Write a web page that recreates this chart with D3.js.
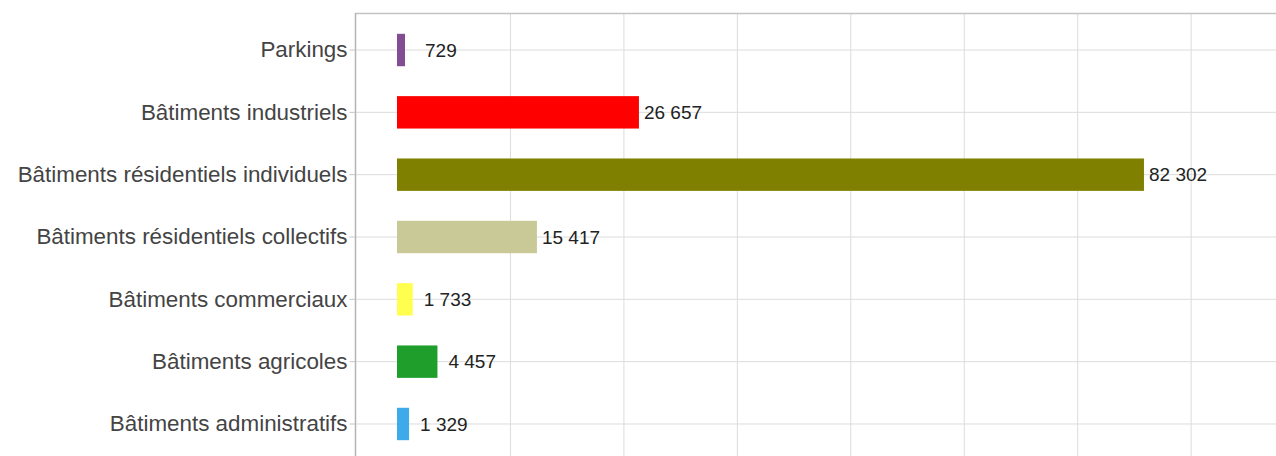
<!DOCTYPE html>
<html>
<head>
<meta charset="utf-8">
<script src="https://cdn.jsdelivr.net/npm/d3@7"></script>
<style>
  body { margin: 0; background: #fff; }
  svg { display: block; font-family: "Liberation Sans", Arial, sans-serif; }
</style>
</head>
<body>
<div id="chart"></div>
<script>
var w = 1276;
var h = 456;

var categories = [
  'Parkings',
  'Bâtiments industriels',
  'Bâtiments résidentiels individuels',
  'Bâtiments résidentiels collectifs',
  'Bâtiments commerciaux',
  'Bâtiments agricoles',
  'Bâtiments administratifs'
];
var values = [729, 26657, 82302, 15417, 1733, 4457, 1329];
var colors = ['#834c93', '#ff0000', '#808000', '#c9c997', '#ffff4f', '#1f9e2c', '#3eaaea'];
var xTicks = [12500, 25000, 37500, 50000, 62500, 75000, 87500, 100000];

var plotLeft = 355;
var plotTop = 13;

var svg = d3.select('#chart')
  .append('svg')
  .attr('width', w)
  .attr('height', h);

// zero sits a bit right of the axis line, as in the original
var x = d3.scaleLinear()
  .domain([0, 100000])
  .range([397, 397 + 907.6]);

var y = d3.scaleBand()
  .domain(categories)
  .range([18.85, 455.15])
  .paddingInner(0.48)
  .paddingOuter(0.24);

var fmt = d3.formatLocale({ decimal: ',', thousands: ' ', grouping: [3], currency: ['', '€'] }).format(',d');

// vertical grid
svg.append('g')
  .selectAll('line')
  .data(xTicks)
  .enter()
  .append('line')
  .attr('x1', function (d) { return x(d); })
  .attr('x2', function (d) { return x(d); })
  .attr('y1', plotTop)
  .attr('y2', h)
  .style('stroke', '#dcdcdc')
  .style('stroke-width', 1);

// horizontal grid
svg.append('g')
  .selectAll('line')
  .data(categories)
  .enter()
  .append('line')
  .attr('x1', plotLeft)
  .attr('x2', w)
  .attr('y1', function (d) { return y(d) + y.bandwidth() / 2; })
  .attr('y2', function (d) { return y(d) + y.bandwidth() / 2; })
  .style('stroke', '#dcdcdc')
  .style('stroke-width', 1);

// top border
svg.append('line')
  .attr('x1', plotLeft)
  .attr('x2', w)
  .attr('y1', plotTop + 0.5)
  .attr('y2', plotTop + 0.5)
  .style('stroke', '#c4c4c4')
  .style('stroke-width', 1.5);

// bars
svg.append('g')
  .selectAll('rect')
  .data(values)
  .enter()
  .append('rect')
  .attr('x', x(0))
  .attr('y', function (d, i) { return y(categories[i]); })
  .attr('width', function (d) { return Math.max(8, x(d) - x(0)); })
  .attr('height', y.bandwidth())
  .style('fill', function (d, i) { return colors[i]; });

// value labels
svg.append('g')
  .selectAll('text')
  .data(values)
  .enter()
  .append('text')
  .attr('x', function (d) {
    var end = Math.max(x(0) + 8, x(d));
    if (d < 1000) return end + 20;
    return d < 10000 ? end + 11 : end + 5;
  })
  .attr('y', function (d, i) { return y(categories[i]) + y.bandwidth() / 2; })
  .attr('dy', '0.35em')
  .style('font-size', '19px')
  .style('fill', '#222')
  .text(function (d) { return fmt(d); });

// y axis
var yAxis = svg.append('g')
  .attr('transform', 'translate(' + (plotLeft + 0.5) + ',0)')
  .call(d3.axisLeft(y).tickSize(6).tickPadding(2));

yAxis.select('.domain')
  .attr('d', 'M0,' + plotTop + 'V' + h)
  .style('stroke', '#b4b4b4')
  .style('stroke-width', 1.5);

yAxis.selectAll('.tick line')
  .style('stroke', '#c4c4c4');

yAxis.selectAll('.tick text')
  .style('font-size', '22.4px')
  .style('font-family', '"Liberation Sans", Arial, sans-serif')
  .style('fill', '#444');
</script>
</body>
</html>
